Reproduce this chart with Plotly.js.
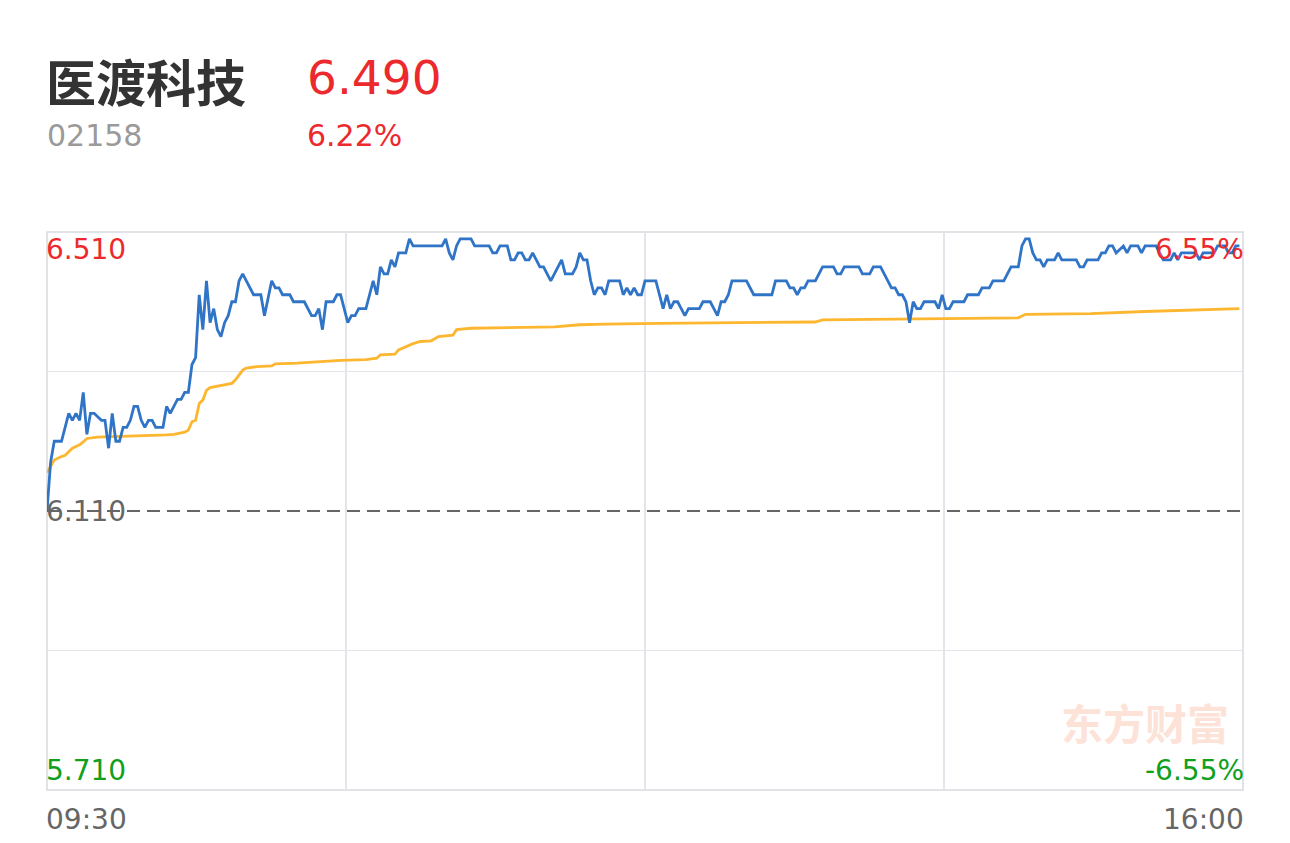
<!DOCTYPE html>
<html>
<head>
<meta charset="utf-8">
<script src="https://cdn.plot.ly/plotly-3.0.1.min.js"></script>
<style>
  html, body { margin: 0; padding: 0; background: #ffffff; }
  #chart { width: 1290px; height: 843px; }
</style>
</head>
<body>
<div id="chart"></div>
<script>
// ---- header data ----
const stockName = "医渡科技";
const stockCode = "02158";
const lastPrice = "6.490";
const changePct = "6.22%";
const watermark = "东方财富";

// ---- axis labels ----
const priceAxisLabels = ["6.510", "6.110", "5.710"];
const pctAxisLabels = ["6.55%", "-6.55%"];
const timeLabels = ["09:30", "16:00"];
const priceMax = 6.51;
const priceMid = 6.11;
const priceMin = 5.71;
const totalMinutes = 330;

// ---- intraday price (minute index from 09:30, price) ----
const priceMinutes = [
  0,1,2,4,6,7,8,9,10,11,12,13,15,16,17,18,19,20,21,22,23,24,25,26,27,28,29,30,32,33,34,35,36,37,38,39,
  40,41,42,43,44,45,46,47,48,49,50,51,52,53,54,55,56,57,59,60,62,63,64,65,67,68,71,73,74,75,76,77,79,80,
  81,83,84,85,86,88,89,90,91,92,93,94,95,96,97,99,100,101,109,110,111,112,113,114,117,118,122,123,124,125,
  127,128,129,130,131,132,133,134,135,136,137,139,140,141,142,143,145,146,147,148,149,150,151,152,153,154,
  155,158,159,160,161,162,163,164,165,168,169,170,171,172,173,174,175,176,177,180,181,183,184,185,186,187,
  188,189,193,194,195,200,201,204,205,206,207,208,209,210,212,213,214,217,218,219,220,224,225,227,228,230,
  231,232,233,234,235,236,237,238,239,240,241,242,245,246,247,248,249,250,253,254,257,258,260,261,264,265,
  266,268,269,270,271,272,273,274,275,276,278,279,280,284,285,286,287,290,291,292,293,294,295,297,298,299,
  301,302,303,306,307,308,310,311,312,313,317,318,319,322,323,325,326,327,328,329
];
const priceValues = [
  6.11,6.18,6.21,6.21,6.25,6.24,6.25,6.24,6.28,6.22,6.25,6.25,6.24,6.24,6.20,6.25,6.21,6.21,6.23,6.23,6.24,6.26,6.26,6.24,6.23,6.24,6.24,6.23,6.23,6.26,6.25,6.26,6.27,6.27,6.28,6.28,
  6.32,6.33,6.42,6.37,6.44,6.38,6.40,6.37,6.36,6.38,6.39,6.41,6.41,6.44,6.45,6.44,6.43,6.42,6.42,6.39,6.44,6.43,6.43,6.42,6.42,6.41,6.41,6.39,6.39,6.40,6.37,6.41,6.41,6.42,
  6.42,6.38,6.39,6.39,6.40,6.40,6.42,6.44,6.42,6.46,6.45,6.45,6.47,6.46,6.48,6.48,6.50,6.49,6.49,6.50,6.48,6.47,6.49,6.50,6.50,6.49,6.49,6.48,6.48,6.49,
  6.49,6.47,6.47,6.48,6.48,6.47,6.47,6.48,6.47,6.46,6.46,6.44,6.45,6.46,6.47,6.45,6.45,6.46,6.48,6.47,6.47,6.44,6.42,6.43,6.43,6.42,
  6.44,6.44,6.42,6.43,6.42,6.43,6.42,6.42,6.44,6.44,6.42,6.40,6.42,6.40,6.41,6.41,6.40,6.39,6.40,6.40,6.41,6.41,6.40,6.39,6.41,6.41,
  6.42,6.44,6.44,6.43,6.42,6.42,6.44,6.44,6.43,6.43,6.42,6.43,6.43,6.44,6.44,6.45,6.46,6.46,6.45,6.45,6.46,6.46,6.45,6.45,6.46,6.46,
  6.45,6.44,6.43,6.43,6.42,6.42,6.41,6.38,6.41,6.40,6.40,6.41,6.41,6.40,6.42,6.40,6.40,6.41,6.41,6.42,6.42,6.43,6.43,6.44,6.44,6.45,
  6.46,6.46,6.49,6.50,6.50,6.48,6.47,6.47,6.46,6.47,6.47,6.48,6.47,6.47,6.46,6.46,6.47,6.47,6.48,6.48,6.49,6.49,6.48,6.49,6.48,6.49,
  6.49,6.48,6.49,6.49,6.48,6.47,6.47,6.48,6.47,6.48,6.48,6.47,6.48,6.48,6.49,6.49,6.48,6.48,6.49,6.49
];

// ---- average price ----
const avgMinutes = [0,2,4,5,7,9,10,11,14,22,23,33,35,38,39,40,41,42,43,44,45,47,50,51,52,54,55,58,62,63,69,74,81,88,91,92,96,97,99,101,103,106,107,108,112,113,117,127,140,147,154,169,191,212,214,228,252,268,270,288,303,320,329];
const avgValues  = [6.165,6.183,6.188,6.190,6.200,6.205,6.209,6.214,6.216,6.217,6.218,6.219,6.220,6.223,6.226,6.238,6.240,6.264,6.269,6.283,6.287,6.289,6.291,6.293,6.298,6.312,6.315,6.317,6.318,6.321,6.322,6.324,6.326,6.327,6.329,6.334,6.335,6.341,6.346,6.350,6.353,6.354,6.357,6.360,6.362,6.370,6.372,6.373,6.374,6.377,6.378,6.379,6.380,6.381,6.384,6.385,6.386,6.387,6.392,6.393,6.396,6.398,6.400];

const RED = "#ec2a2e";
const GREEN = "#10a01d";
const GRAY = "#666666";
const GRID = "#e3e5ea";
const NUMFONT = "DejaVu Sans, Liberation Sans, sans-serif";
const CJKFONT = "Noto Sans CJK SC, Noto Sans, sans-serif";

// pixel helpers to convert header positions into paper coordinates
const plotTop = 232, plotBottom = 790, plotLeft = 47, plotRight = 1243;
const py = Y => (plotBottom - Y) / (plotBottom - plotTop);
const px = X => (X - plotLeft) / (plotRight - plotLeft);

const traces = [
  {
    x: avgMinutes, y: avgValues, type: "scatter", mode: "lines",
    line: { color: "#fdb62f", width: 2.8 }, hoverinfo: "skip"
  },
  {
    x: priceMinutes, y: priceValues, type: "scatter", mode: "lines",
    line: { color: "#2f74c6", width: 2.8 }, hoverinfo: "skip"
  }
];

function ann(text, x, y, xanchor, color, size, family, extra) {
  return Object.assign({
    text: text, x: x, y: y, xref: "paper", yref: "paper",
    xanchor: xanchor, yanchor: "middle", showarrow: false,
    font: { color: color, size: size, family: family }
  }, extra || {});
}

const layout = {
  width: 1290, height: 843,
  margin: { l: plotLeft, r: 1290 - plotRight, t: plotTop, b: 843 - plotBottom, pad: 0 },
  paper_bgcolor: "#ffffff", plot_bgcolor: "#ffffff",
  showlegend: false, hovermode: false,
  xaxis: {
    range: [0, totalMinutes], tickvals: [totalMinutes / 4, totalMinutes / 2, totalMinutes * 3 / 4],
    showticklabels: false, ticks: "", showgrid: true, gridcolor: GRID, gridwidth: 1.5,
    zeroline: false, showline: false, fixedrange: true
  },
  yaxis: {
    range: [priceMin, priceMax], tickvals: [priceMid - 0.2, priceMid + 0.2],
    showticklabels: false, ticks: "", showgrid: true, gridcolor: GRID, gridwidth: 1.5,
    zeroline: false, showline: false, fixedrange: true
  },
  shapes: [
    { type: "rect", xref: "paper", yref: "paper", x0: 0, x1: 1, y0: 0, y1: 1,
      line: { color: "#d8dae0", width: 1.5 }, layer: "below" },
    { type: "line", xref: "paper", yref: "y", x0: 0, x1: 1, y0: priceMid, y1: priceMid,
      line: { color: GRAY, width: 2, dash: "13px,7px" }, layer: "below" }
  ],
  annotations: [
    ann(stockName, px(44), py(80), "left", "#333333", 50, CJKFONT),
    ann(lastPrice, px(305), py(78), "left", RED, 47, NUMFONT),
    ann(stockCode, px(45), py(136), "left", "#9a9a9a", 30, NUMFONT),
    ann(changePct, px(305), py(136), "left", RED, 30, NUMFONT),
    ann(watermark, px(1145), py(721), "center", "#fde2d8", 42, CJKFONT),
    ann(priceAxisLabels[0], px(44), py(249), "left", RED, 28, NUMFONT),
    ann(priceAxisLabels[1], px(44), py(511), "left", GRAY, 28, NUMFONT),
    ann(priceAxisLabels[2], px(44), py(770), "left", GREEN, 28, NUMFONT),
    ann(pctAxisLabels[0], px(1246), py(249), "right", RED, 28, NUMFONT),
    ann(pctAxisLabels[1], px(1246), py(770), "right", GREEN, 28, NUMFONT),
    ann(timeLabels[0], px(44), py(819), "left", GRAY, 28, NUMFONT),
    ann(timeLabels[1], px(1246), py(819), "right", GRAY, 28, NUMFONT)
  ]
};
layout.annotations[0].font.weight = "bold";
layout.annotations[4].font.weight = "bold";

Plotly.newPlot("chart", traces, layout, { displayModeBar: false, staticPlot: true });
</script>
</body>
</html>
